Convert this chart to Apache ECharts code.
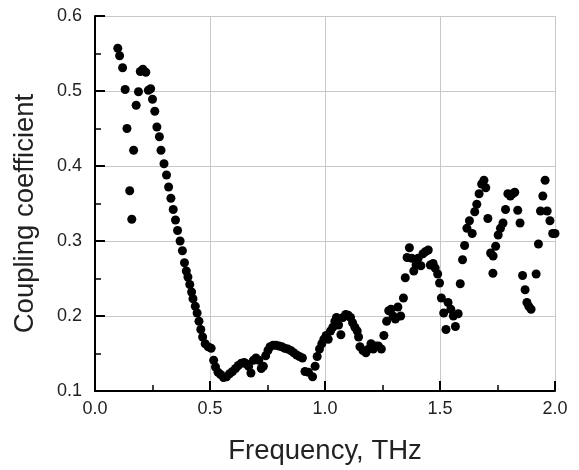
<!DOCTYPE html>
<html><head><meta charset="utf-8">
<script src="https://cdn.jsdelivr.net/npm/echarts@6/dist/echarts.min.js"></script>
<style>html,body{margin:0;padding:0;background:#fff}#c{width:579px;height:470px}</style>
</head><body><div id="c"></div>
<script>
var freq = [0.099,0.107,0.12,0.131,0.139,0.151,0.160,0.168,0.179,0.189,0.197,0.208,0.221,0.232,0.242,0.25,0.26,0.269,0.28,0.287,0.30,0.311,0.32,0.33,0.34,0.35,0.359,0.37,0.38,0.389,0.397,0.404,0.412,0.42,0.426,0.436,0.444,0.452,0.46,0.468,0.479,0.492,0.505,0.516,0.524,0.535,0.546,0.559,0.572,0.585,0.598,0.611,0.623,0.636,0.649,0.659,0.668,0.678,0.689,0.700,0.712,0.723,0.732,0.742,0.752,0.761,0.774,0.787,0.80,0.812,0.825,0.838,0.851,0.864,0.877,0.889,0.902,0.913,0.928,0.946,0.957,0.966,0.976,0.986,0.995,1.005,1.014,1.024,1.034,1.043,1.05,1.059,1.069,1.078,1.09,1.101,1.111,1.12,1.13,1.14,1.146,1.152,1.165,1.178,1.19,1.2,1.21,1.221,1.232,1.245,1.256,1.268,1.277,1.287,1.296,1.306,1.317,1.329,1.341,1.349,1.357,1.367,1.377,1.386,1.396,1.405,1.417,1.426,1.438,1.449,1.458,1.47,1.479,1.49,1.498,1.506,1.516,1.526,1.535,1.547,1.558,1.567,1.579,1.588,1.598,1.607,1.617,1.628,1.64,1.651,1.66,1.67,1.681,1.691,1.699,1.708,1.72,1.731,1.73,1.742,1.753,1.763,1.774,1.785,1.795,1.806,1.816,1.825,1.838,1.848,1.859,1.87,1.878,1.886,1.896,1.918,1.928,1.937,1.947,1.957,1.966,1.978,1.99,2.0];
var coupling = [0.557,0.547,0.531,0.502,0.450,0.367,0.329,0.421,0.481,0.499,0.526,0.529,0.525,0.501,0.503,0.489,0.473,0.452,0.439,0.421,0.403,0.388,0.372,0.357,0.342,0.328,0.314,0.300,0.287,0.271,0.260,0.252,0.242,0.232,0.223,0.213,0.204,0.193,0.182,0.172,0.163,0.159,0.157,0.141,0.132,0.125,0.122,0.118,0.119,0.123,0.126,0.130,0.134,0.137,0.138,0.136,0.133,0.124,0.141,0.144,0.141,0.130,0.133,0.147,0.154,0.159,0.161,0.161,0.160,0.159,0.157,0.156,0.154,0.151,0.148,0.146,0.144,0.126,0.125,0.119,0.133,0.146,0.156,0.163,0.169,0.174,0.169,0.180,0.185,0.193,0.198,0.188,0.175,0.198,0.202,0.201,0.198,0.191,0.185,0.180,0.172,0.159,0.154,0.151,0.156,0.163,0.156,0.160,0.160,0.156,0.174,0.193,0.207,0.209,0.200,0.196,0.212,0.200,0.224,0.251,0.278,0.291,0.277,0.260,0.268,0.277,0.267,0.283,0.286,0.288,0.268,0.270,0.264,0.256,0.244,0.224,0.204,0.182,0.218,0.209,0.200,0.186,0.203,0.243,0.275,0.294,0.317,0.327,0.310,0.339,0.349,0.363,0.376,0.381,0.371,0.330,0.284,0.280,0.257,0.293,0.308,0.317,0.324,0.342,0.363,0.360,0.363,0.365,0.341,0.324,0.254,0.235,0.218,0.213,0.209,0.256,0.296,0.340,0.360,0.381,0.340,0.327,0.310,0.310];
var xTicks = [0, 0.5, 1.0, 1.5, 2.0];
var yTicks = [0.1, 0.2, 0.3, 0.4, 0.5, 0.6];

var pts = freq.map(function(f, i){ return [f, coupling[i]]; });
var chart = echarts.init(document.getElementById('c'), null, {renderer: 'canvas'});
var font = 'Liberation Sans, Arial, sans-serif';
chart.setOption({
  animation: false,
  backgroundColor: '#fff',
  grid: {left: 95, right: 24, top: 16, bottom: 77, containLabel: false},
  xAxis: {
    type: 'value', min: 0, max: 2, interval: 0.5,
    name: 'Frequency, THz', nameLocation: 'middle', nameGap: 46,
    nameTextStyle: {fontFamily: font, fontSize: 27.5, color: '#222'},
    axisLine: {show: true, onZero: false, lineStyle: {color: '#000', width: 2}},
    axisTick: {show: true, inside: true, length: 10, lineStyle: {color: '#000', width: 2}},
    minorTick: {show: true, splitNumber: 2, length: 6, lineStyle: {color: '#000', width: 1.5}},
    axisLabel: {fontFamily: font, fontSize: 18, color: '#222', margin: 9,
      formatter: function(v){ return v.toFixed(1); }},
    splitLine: {show: true, lineStyle: {color: '#c8c8c8', width: 1}}
  },
  yAxis: {
    type: 'value', min: 0.1, max: 0.6, interval: 0.1,
    name: 'Coupling coefficient', nameLocation: 'middle', nameGap: 56,
    nameTextStyle: {fontFamily: font, fontSize: 27.5, color: '#222', padding: [0, 0, 0, -20]},
    axisLine: {show: true, onZero: false, lineStyle: {color: '#000', width: 2}},
    axisTick: {show: true, inside: true, length: 10, lineStyle: {color: '#000', width: 2}},
    minorTick: {show: true, splitNumber: 2, length: 6, lineStyle: {color: '#000', width: 1.5}},
    axisLabel: {fontFamily: font, fontSize: 18, color: '#222', margin: 13,
      formatter: function(v){ return v.toFixed(1); }},
    splitLine: {show: true, lineStyle: {color: '#c8c8c8', width: 1}}
  },
  series: [{
    type: 'scatter', data: pts, symbol: 'circle', symbolSize: 9,
    itemStyle: {color: '#000', opacity: 1}
  }]
});
</script></body></html>
